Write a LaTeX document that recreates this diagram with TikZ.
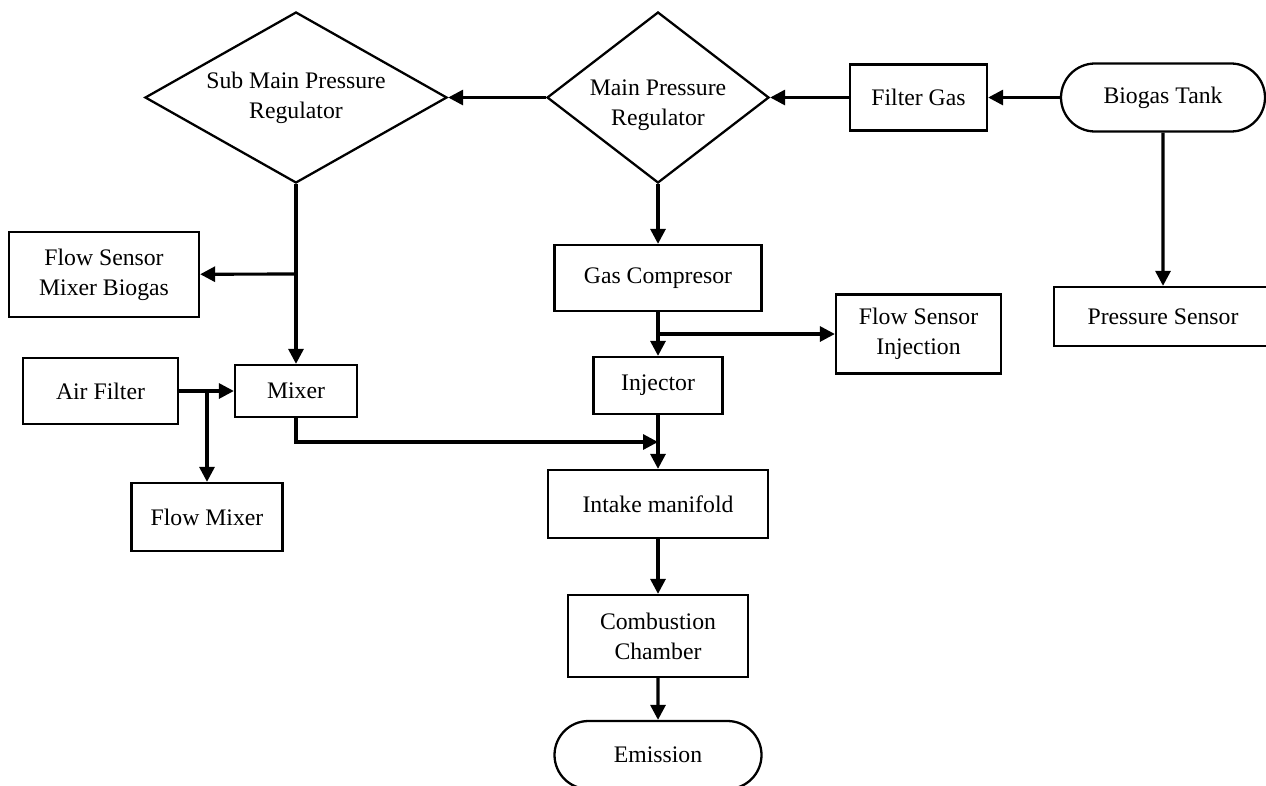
\documentclass[tikz,border=0pt]{standalone}
\usepackage{fontspec}
\setmainfont{Liberation Serif}
\usetikzlibrary{arrows.meta,shapes.geometric,shapes.misc}

\begin{document}
\begin{tikzpicture}[font=\fontsize{13.5}{17}\selectfont]
		\tikzstyle{box} = [draw, line width=1.3pt, align=center, inner sep=0pt]
		\tikzstyle{dec} = [draw, diamond, line width=1.3pt, align=center, inner sep=0pt]
		\tikzstyle{term} = [draw, rounded rectangle, line width=1.3pt, align=center, inner sep=0pt]
		\tikzstyle{ar} = [line width=1.8pt, -{Triangle[length=0.3cm,width=0.3cm]}]
		\useasboundingbox (0,0) rectangle (25.32,-15.7);
		% top row
		\node [term, minimum width=4.08cm, minimum height=1.36cm] (tank) at (23.26,-1.95) {Biogas Tank};
		\node [box, minimum width=2.74cm, minimum height=1.32cm] (filtergas) at (18.37,-1.95) {Filter Gas};
		\node [dec, aspect=1.3, inner sep=-5pt, minimum width=4.44cm, minimum height=3.42cm] (mainreg) at (13.16,-1.95) {\rule{0pt}{0.62cm}Main Pressure\\Regulator};
		\node [dec, aspect=1.77, minimum width=6.04cm, minimum height=3.42cm] (submain) at (5.92,-1.95) {Sub Main Pressure\\Regulator};
		\node [box, minimum width=4.36cm, minimum height=1.18cm] (presssensor) at (23.26,-6.33) {Pressure Sensor};
		% middle column
		\node [box, minimum width=4.14cm, minimum height=1.32cm] (compresor) at (13.16,-5.56) {Gas Compresor};
		\node [box, minimum width=3.3cm, minimum height=1.58cm] (flowinj) at (18.37,-6.68) {Flow Sensor\\Injection};
		\node [box, minimum width=2.58cm, minimum height=1.14cm] (injector) at (13.16,-7.71) {Injector};
		\node [box, minimum width=4.4cm, minimum height=1.36cm] (intake) at (13.16,-10.08) {Intake manifold};
		\node [box, minimum width=3.6cm, minimum height=1.64cm] (combustion) at (13.16,-12.72) {Combustion\\Chamber};
		\node [term, minimum width=4.14cm, minimum height=1.36cm] (emission) at (13.16,-15.1) {Emission};
		% left column
		\node [box, minimum width=3.8cm, minimum height=1.7cm] (flowsensmix) at (2.08,-5.49) {Flow Sensor\\Mixer Biogas};
		\node [box, minimum width=2.44cm, minimum height=1.04cm] (mixer) at (5.92,-7.82) {Mixer};
		\node [box, minimum width=3.1cm, minimum height=1.32cm] (airfilter) at (2.01,-7.82) {Air Filter};
		\node [box, minimum width=3.02cm, minimum height=1.36cm] (flowmixer) at (4.14,-10.34) {Flow Mixer};
		% junctions
		\coordinate (jtank) at (mainreg.south |- 0,-8.84);
		\coordinate (jinj) at (13.16,-6.68);
		\coordinate (jsub) at (5.92,-5.48);
		\coordinate (jair) at (4.14,-7.82);
		% connectors
		\draw [ar] (tank) -- (filtergas);
		\draw [ar] (filtergas) -- (mainreg);
		\draw [ar] (mainreg) -- (submain);
		\draw [ar] (tank) -- (presssensor);
		\draw [ar] (mainreg) -- (compresor);
		\draw [ar] (compresor) -- (injector);
		\draw [ar] (jinj) -- (flowinj);
		\draw [ar] (injector) -- (intake);
		\draw [ar] (intake) -- (combustion);
		\draw [ar] (combustion) -- (emission);
		\draw [ar] (submain.south) -- (mixer);
		\draw [ar] (jsub) -- (flowsensmix);
		\draw [ar] (airfilter) -- (mixer);
		\draw [ar] (jair) -- (flowmixer);
		\draw [ar] (mixer.south) |- (jtank);
		\end{tikzpicture}
\end{document}
